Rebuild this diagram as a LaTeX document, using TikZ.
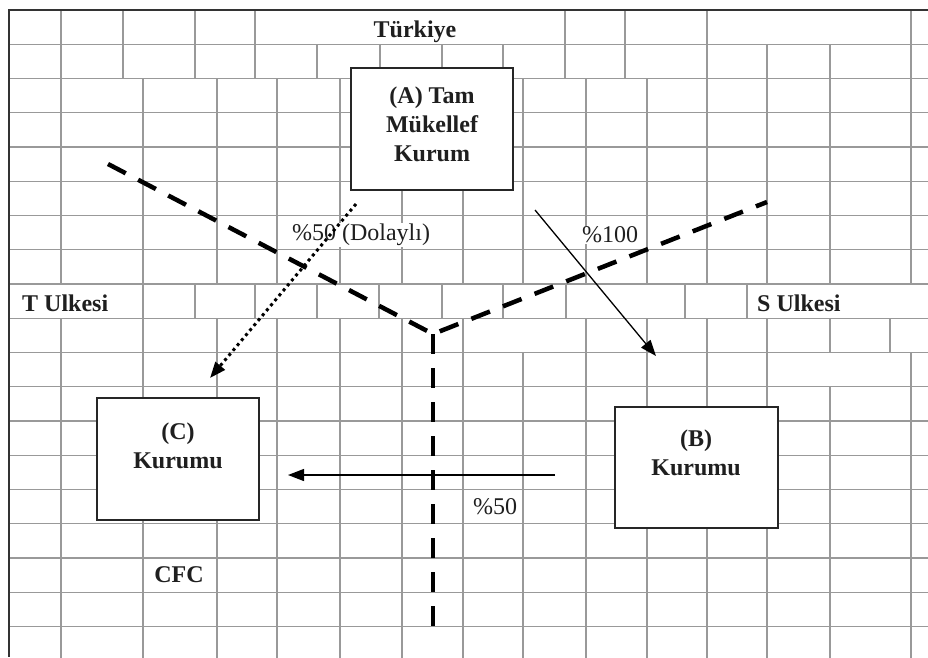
\documentclass[tikz,border=0pt]{standalone}
\usepackage{fontspec}
\setmainfont{Liberation Serif}
\usetikzlibrary{arrows.meta}
\begin{document}
\begin{tikzpicture}[x=1pt,y=-1pt,
  grid/.style={draw=black!40, line width=1.2pt},
  border/.style={draw=black!80, line width=2.2pt},
  sep/.style={draw=black, line width=4.5pt, dash pattern=on 20pt off 14pt},
  box/.style={draw=black!85, fill=white, line width=2pt, inner sep=0pt},
  bt/.style={font=\fontsize{24}{29}\selectfont\bfseries, align=center, inner sep=0pt, text=black!88},
  rt/.style={font=\fontsize{24}{29}\selectfont, inner sep=1pt, fill=white, text=black!88},
  lab/.style={font=\fontsize{24}{29}\selectfont\bfseries, inner sep=1pt, fill=white, text=black!88},
  tip/.style={-{Triangle[length=16pt,width=12pt]}},
  arr/.style={draw=black, line width=1.3pt, tip},
  dotarr/.style={draw=black, line width=3pt, dash pattern=on 3pt off 3.5pt, tip}
]
\useasboundingbox (0,0) rectangle (928,657);
\fill[white] (0,0) rectangle (928,657);
% horizontal grid lines
\foreach \k in {1,...,18} \draw[grid] (9,{10+34.25*\k}) -- (928,{10+34.25*\k});
% vertical grid segments
\foreach \x in {61,123,195,255,565,625,707,911}
  \draw[grid] (\x,10) -- (\x,44.25);
\foreach \x in {61,123,195,255,317,380,442,503,565,625,707,767,830,911}
  \draw[grid] (\x,44.25) -- (\x,78.5);
\foreach \r in {2,3,4,5,6,7,11,12,13,14,15,16,17,18}
  \foreach \x in {61,143,217,277,340,402,463,523,586,647,707,767,830,911}
    \draw[grid] (\x,{10+34.25*\r}) -- (\x,{10+34.25*(\r+1)});
\foreach \x in {143,195,255,317,379,442,503,566,685,747}
  \draw[grid] (\x,284) -- (\x,318.25);
\foreach \x in {61,143,217,277,340,402,463,586,647,707,767,830,890}
  \draw[grid] (\x,318.25) -- (\x,352.5);
\foreach \x in {61,143,217,277,340,402,463,523,586,647,707,767,911}
  \draw[grid] (\x,352.5) -- (\x,386.75);
% frame
\draw[border] (9,10) -- (928,10);
\draw[border] (9,9) -- (9,657);

% labels on the grid
\node[lab] (tur) at (415,32) {Türkiye};
\node[lab, anchor=west] (tul) at (21,303) {T Ulkesi};
\node[lab, anchor=west] (sul) at (756,303) {S Ulkesi};
\node[rt] (p50d) at (361,235) {\%50 (Dolaylı)};
\node[rt] (p100) at (610,235) {\%100};
\node[rt] (p50) at (495,507) {\%50};
\node[lab] (cfc) at (179,575) {CFC};

% borders between countries
\coordinate (tl) at (108,164);
\coordinate (jn) at (433,334);
\coordinate (tr) at (767,202);
\coordinate (bt) at (433,640);
\draw[sep] (tl) -- (jn) -- (tr);
\draw[sep] (jn) -- (bt);

% boxes
\node[box, minimum width=162pt, minimum height=122pt] (A) at (432,129) {};
\node[box, minimum width=162pt, minimum height=122pt] (C) at (178,459) {};
\node[box, minimum width=163pt, minimum height=121pt] (B) at (696.5,467.5) {};
\node[bt] (tA) at (432,124) {(A) Tam\\Mükellef\\Kurum};
\node[bt] (tC) at (178,446) {(C)\\Kurumu};
\node[bt] (tB) at (696,453) {(B)\\Kurumu};

% arrows
\coordinate (d1) at (356,204);
\coordinate (d2) at (210,378);
\coordinate (s1) at (535,210);
\coordinate (s2) at (656,356);
\coordinate (h1) at (555,475);
\coordinate (h2) at (288,475);
\draw[dotarr] (d1) -- (d2);
\draw[arr] (s1) -- (s2);
\draw[arr] (h1) -- (h2);
\end{tikzpicture}
\end{document}
